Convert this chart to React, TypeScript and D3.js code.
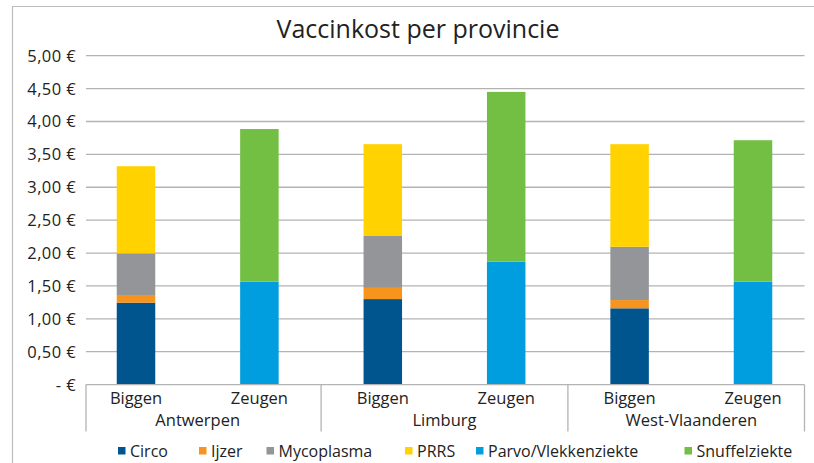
import React from 'react'
import * as d3 from 'd3'

const series = ['Circo', 'Ijzer', 'Mycoplasma', 'PRRS', 'Parvo/Vlekkenziekte', 'Snuffelziekte']
const colors = ['#00558f', '#f7941d', '#939598', '#ffd200', '#009ddf', '#72bf44']

const provinces = ['Antwerpen', 'Limburg', 'West-Vlaanderen']
const animals = ['Biggen', 'Zeugen']

// one value per bar: Antwerpen Biggen, Antwerpen Zeugen, Limburg Biggen, ...
const circo = [1.245, 0, 1.3, 0, 1.16, 0]
const ijzer = [0.105, 0, 0.17, 0, 0.125, 0]
const mycoplasma = [0.645, 0, 0.79, 0, 0.81, 0]
const prrs = [1.325, 0, 1.395, 0, 1.56, 0]
const parvo = [0, 1.565, 0, 1.87, 0, 1.565]
const snuffel = [0, 2.32, 0, 2.58, 0, 2.15]

const yTicks = [0, 0.5, 1, 1.5, 2, 2.5, 3, 3.5, 4, 4.5, 5]
const yTickLabels = ['- €', '0,50 €', '1,00 €', '1,50 €', '2,00 €', '2,50 €', '3,00 €', '3,50 €', '4,00 €', '4,50 €', '5,00 €']

const font = '"Open Sans", sans-serif'

export default function App() {
  const width = 814
  const height = 463
  const plotLeft = 86
  const plotRight = 804.5

  const bars = provinces.flatMap((p) => animals.map((a) => ({ province: p, animal: a })))
  const rows = bars.map((b, i) => ({
    key: b.province + '-' + b.animal,
    Circo: circo[i],
    Ijzer: ijzer[i],
    Mycoplasma: mycoplasma[i],
    PRRS: prrs[i],
    'Parvo/Vlekkenziekte': parvo[i],
    Snuffelziekte: snuffel[i],
  }))
  const stacked = d3.stack<any>().keys(series)(rows)

  const x = d3
    .scaleBand()
    .domain(rows.map((r) => r.key))
    .range([74.3, 814.7])
    .paddingInner(0.688)
    .paddingOuter(0.344)
  const y = d3.scaleLinear().domain([0, 5]).range([384.6, 55.7])

  const groupWidth = x.step() * 2
  const groupStart = (i: number) => 74.3 + i * groupWidth
  const boxBottom = 431.5

  const legendX = [118, 199, 266.5, 405, 476, 684.5]

  return (
    <svg width={width} height={height} style={{ position: 'absolute', left: 0, top: 0 }}>
      <rect x={0} y={0} width={width} height={height} fill="#fff" />
      <path d="M12.5,470 V6.5 H820" fill="none" stroke="#bdbdbd" strokeWidth={1.2} />

      <text x={418} y={38} textAnchor="middle" fontFamily={font} fontSize={25} fill="#222">
        Vaccinkost per provincie
      </text>

      {yTicks.map((t, i) => (
        <g key={t}>
          {t > 0 && (
            <line x1={plotLeft} x2={plotRight} y1={y(t)} y2={y(t)} stroke="#b3b3b3" strokeWidth={1.3} />
          )}
          <text
            x={76}
            y={y(t)}
            dy="0.36em"
            textAnchor="end"
            fontFamily={font}
            fontSize={16.5}
            letterSpacing={0.4}
            fill="#222"
          >
            {yTickLabels[i]}
          </text>
        </g>
      ))}

      {stacked.map((s, si) =>
        s.map((d, i) =>
          d[1] - d[0] > 0 ? (
            <rect
              key={series[si] + i}
              x={x(rows[i].key)}
              width={x.bandwidth()}
              y={y(d[1])}
              height={y(d[0]) - y(d[1])}
              fill={colors[si]}
            />
          ) : null
        )
      )}

      <line x1={plotLeft} x2={plotRight} y1={y(0)} y2={y(0)} stroke="#b3b3b3" strokeWidth={1.3} />
      {[plotLeft, groupStart(1), groupStart(2), plotRight].map((gx, i) => (
        <line key={i} x1={gx} x2={gx} y1={y(0)} y2={boxBottom} stroke="#b3b3b3" strokeWidth={1.3} />
      ))}

      {bars.map((b, i) => (
        <text
          key={rows[i].key}
          x={(x(rows[i].key) as number) + x.bandwidth() / 2}
          y={404}
          textAnchor="middle"
          fontFamily={font}
          fontSize={16.5}
          fill="#222"
        >
          {b.animal}
        </text>
      ))}
      {provinces.map((p, i) => {
        const cx = ((x(p + '-Biggen') as number) + (x(p + '-Zeugen') as number) + x.bandwidth()) / 2
        return (
          <text key={p} x={cx} y={426} textAnchor="middle" fontFamily={font} fontSize={16.5} fill="#222">
            {p}
          </text>
        )
      })}

      {series.map((s, i) => (
        <g key={s} transform={`translate(${legendX[i]},0)`}>
          <rect x={0} y={447} width={7.5} height={7.5} fill={colors[i]} />
          <text x={12} y={457} fontFamily={font} fontSize={16} fill="#222">
            {s}
          </text>
        </g>
      ))}
    </svg>
  )
}
